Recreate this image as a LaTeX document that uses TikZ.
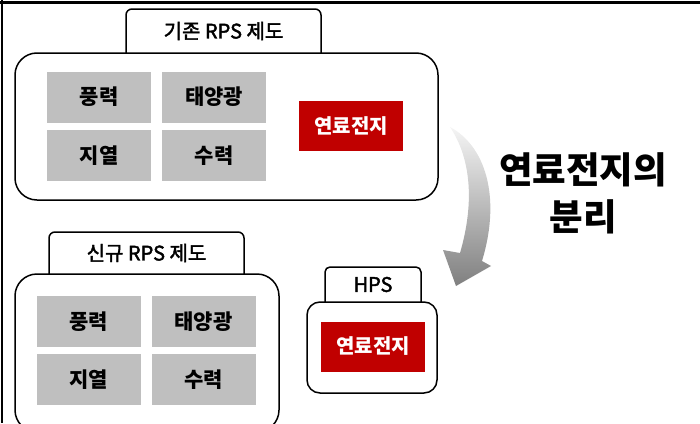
\documentclass[tikz,border=0pt]{standalone}
\usepackage{fontspec}
\setmainfont{Noto Sans CJK KR}
\newfontfamily\tabfont[FakeBold=2]{Noto Sans CJK KR}
\begin{document}
\begin{tikzpicture}[x=1pt,y=-1pt,
  frame/.style={draw=black,line width=1.5pt,fill=white},
  graybox/.style={fill=boxgray,minimum width=104pt,minimum height=51pt,inner sep=0pt,font=\fontsize{21}{21}\selectfont\bfseries},
  redbox/.style={fill=boxred,text=white,minimum width=104pt,minimum height=50pt,inner sep=0pt,font=\fontsize{20}{20}\selectfont\bfseries},
  tablabel/.style={font=\tabfont\fontsize{20}{20}\selectfont,inner sep=0pt},
  biglabel/.style={font=\fontsize{36.5}{47}\selectfont\bfseries,align=center,inner sep=0pt}]
\definecolor{boxgray}{HTML}{BFBFBF}
\definecolor{boxred}{HTML}{C00000}
\useasboundingbox (0,0) rectangle (700,423);
\clip (0,0) rectangle (700,423);
% page border lines
\draw[line width=2.5pt] (0,2.5) -- (700,2.5);
\draw[line width=2pt] (2,0) -- (2,423);

% ---- top (existing RPS) ----
\draw[frame,rounded corners=6pt] (126,53) -- (126,9) -- (321,9) -- (321,53);
\node[tablabel] (t1) at (223.5,31) {기존 RPS 제도};
\draw[frame,rounded corners=22pt] (15,53) rectangle (438,200);
\node[graybox] (a1) at (99,97) {풍력};
\node[graybox] (a2) at (214,97) {태양광};
\node[graybox] (a3) at (99,155.5) {지열};
\node[graybox] (a4) at (214,155.5) {수력};
\node[redbox] (a5) at (351,126) {연료전지};

% ---- bottom-left (new RPS) ----
\draw[frame,rounded corners=6pt] (49,274) -- (49,232) -- (244,232) -- (244,274);
\node[tablabel] (t2) at (146.5,253) {신규 RPS 제도};
\draw[frame,rounded corners=22pt] (15,274) rectangle (279,432);
\node[graybox] (b1) at (88.5,321.5) {풍력};
\node[graybox] (b2) at (203.5,321.5) {태양광};
\node[graybox] (b3) at (88.5,379.5) {지열};
\node[graybox] (b4) at (203.5,379.5) {수력};

% ---- HPS ----
\draw[frame,rounded corners=5pt] (325,302) -- (325,267) -- (421,267) -- (421,302);
\node[tablabel] (t3) at (373,284.5) {HPS};
\draw[frame,rounded corners=13pt] (307,302) rectangle (437,393);
\node[redbox] (c1) at (373,346.5) {연료전지};

% ---- curved arrow ----
\shade[top color=white!96!black,bottom color=black!50] (450,127)
  .. controls (484,145) and (502,195) .. (482,261)
  -- (491,266) -- (456,286) -- (443,250)
  -- (460,253)
  .. controls (474,205) and (472,160) .. (450,127) -- cycle;

% ---- big label ----
\node[biglabel] (lbl) at (583,193.5) {연료전지의\\분리};
\end{tikzpicture}
\end{document}
